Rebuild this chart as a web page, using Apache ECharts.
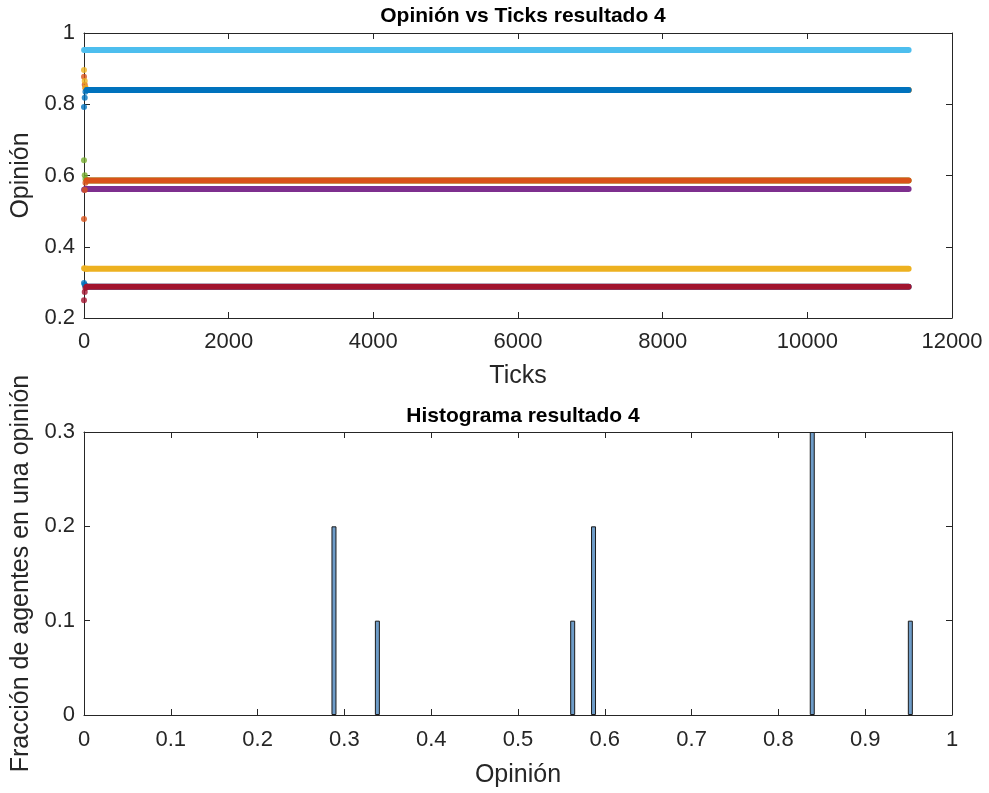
<!DOCTYPE html>
<html>
<head>
<meta charset="utf-8">
<script src="https://cdn.jsdelivr.net/npm/echarts@6/dist/echarts.min.js"></script>
<style>
html,body{margin:0;padding:0;background:#fff;}
#c{width:989px;height:793px;}
</style>
</head>
<body>
<div id="c"></div>
<script>
// ---------- DATA ----------
// Top plot: opinion trajectories of 10 agents (tick, opinion)
const agentColors = ['#0072BD','#D95319','#EDB120','#7E2F8E','#77AC30','#4DBEEE','#A2142F','#0072BD','#D95319','#EDB120'];
const agentTicks = [0, 10, 20, 40, 11400];
const agentOpinions = [
  [0.298, 0.293, 0.289, 0.288, 0.288],
  [0.877, 0.855, 0.845, 0.840, 0.840],
  [0.896, 0.865, 0.848, 0.840, 0.840],
  [0.560, 0.561, 0.562, 0.562, 0.562],
  [0.643, 0.601, 0.590, 0.586, 0.586],
  [0.952, 0.952, 0.952, 0.952, 0.952],
  [0.250, 0.273, 0.284, 0.288, 0.288],
  [0.792, 0.818, 0.835, 0.840, 0.840],
  [0.478, 0.559, 0.580, 0.586, 0.586],
  [0.340, 0.339, 0.338, 0.338, 0.338]
];
// Bottom plot: histogram
const binCenters = [0.288, 0.338, 0.563, 0.587, 0.839, 0.952];
const fractions  = [0.2, 0.1, 0.1, 0.2, 0.3, 0.1];

const topTitle = 'Opinión vs Ticks resultado 4';
const bottomTitle = 'Histograma resultado 4';

// ---------- CHART ----------
const FONT = 'Liberation Sans, Arial, sans-serif';
const AX = '#262626';
const chart = echarts.init(document.getElementById('c'), null, {renderer:'canvas'});

function axisCommon(extra, margin){
  return Object.assign({
    axisLine:{show:true, onZero:false, lineStyle:{color:AX, width:1}},
    axisTick:{show:true, inside:true, length:6, lineStyle:{color:AX}},
    axisLabel:{color:AX, fontFamily:FONT, fontSize:22, margin:margin, formatter:(v)=>String(+v.toFixed(6))},
    splitLine:{show:false},
    nameTextStyle:{color:AX, fontFamily:FONT, fontSize:25}
  }, extra);
}
function mirror(extra){
  return Object.assign({
    axisLine:{show:true, onZero:false, lineStyle:{color:AX, width:1}},
    axisTick:{show:true, inside:true, length:6, lineStyle:{color:AX}},
    axisLabel:{show:false},
    splitLine:{show:false}
  }, extra);
}

const series = [];
for (let i = 0; i < agentOpinions.length; i++) {
  const pts = agentTicks.map((t, j) => [t, agentOpinions[i][j]]);
  series.push({
    type:'line',
    xAxisIndex:0, yAxisIndex:0,
    data: pts.slice(agentTicks.length - 2),
    showSymbol:false,
    lineStyle:{color:agentColors[i], width:6, cap:'round'},
    silent:true, z:2 + 2*i
  });
  series.push({
    type:'scatter',
    xAxisIndex:0, yAxisIndex:0,
    data: pts.slice(0, agentTicks.length - 1),
    symbol:'circle', symbolSize:6,
    itemStyle:{color:agentColors[i]},
    silent:true, z:3 + 2*i
  });
}
series.push({
  type:'bar',
  xAxisIndex:2, yAxisIndex:2,
  data: binCenters.map((b, i) => [b, fractions[i]]),
  barWidth:5,
  itemStyle:{color:'#6E9CC8', borderColor:'#1a1a1a', borderWidth:1},
  silent:true
});

chart.setOption({
  animation:false,
  backgroundColor:'#fff',
  title:[
    {text:topTitle, left:518, top:1, textAlign:'center',
     textStyle:{fontFamily:FONT, fontSize:21, fontWeight:'bold', color:'#000'}},
    {text:bottomTitle, left:518, top:401, textAlign:'center',
     textStyle:{fontFamily:FONT, fontSize:21, fontWeight:'bold', color:'#000'}}
  ],
  grid:[
    {left:84, top:33, width:868, height:285, containLabel:false},
    {left:84, top:432, width:868, height:283, containLabel:false}
  ],
  xAxis:[
    axisCommon({type:'value', gridIndex:0, min:0, max:12000, interval:2000, position:'bottom',
      name:'Ticks', nameLocation:'middle', nameGap:46}, 13),
    mirror({type:'value', gridIndex:0, min:0, max:12000, interval:2000, position:'top'}),
    axisCommon({type:'value', gridIndex:1, min:0, max:1, interval:0.1, position:'bottom',
      name:'Opinión', nameLocation:'middle', nameGap:48}, 14),
    mirror({type:'value', gridIndex:1, min:0, max:1, interval:0.1, position:'top'})
  ],
  yAxis:[
    axisCommon({type:'value', gridIndex:0, min:0.2, max:1, interval:0.2, position:'left',
      name:'Opinión', nameLocation:'middle', nameGap:50}, 9),
    mirror({type:'value', gridIndex:0, min:0.2, max:1, interval:0.2, position:'right'}),
    axisCommon({type:'value', gridIndex:1, min:0, max:0.3, interval:0.1, position:'left',
      name:'Fracción de agentes en una opinión', nameLocation:'middle', nameGap:50}, 9),
    mirror({type:'value', gridIndex:1, min:0, max:0.3, interval:0.1, position:'right'})
  ],
  series: series
});
</script>
</body>
</html>
